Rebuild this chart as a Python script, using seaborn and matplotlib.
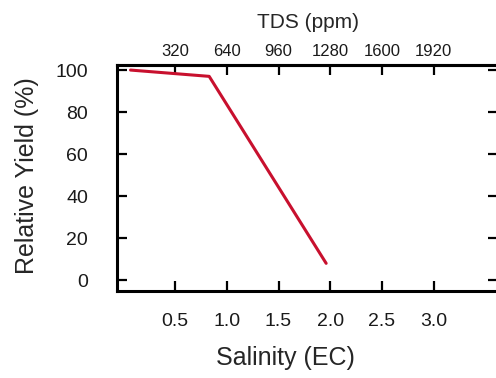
import numpy as np
import pandas as pd
import matplotlib
matplotlib.use("Agg")
import matplotlib.pyplot as plt
import seaborn as sns

# data
salinity_ec = [0.07, 0.83, 1.96]
relative_yield = [100, 97, 8]

ec_ticks = [0.5, 1.0, 1.5, 2.0, 2.5, 3.0]
tds_ticks = [320, 640, 960, 1280, 1600, 1920]
yield_ticks = [0, 20, 40, 60, 80, 100]
ppm_per_ec = 640

sns.set_style("ticks")
plt.rcParams['font.family'] = ['Liberation Sans', 'DejaVu Sans']
plt.rcParams['text.color'] = '#1a1a1a'

df = pd.DataFrame({'ec': salinity_ec, 'yield': relative_yield})

fig = plt.figure(figsize=(4.96, 3.78), dpi=100)
ax = fig.add_axes([0.236, 0.230, 0.768, 0.598])

sns.lineplot(data=df, x='ec', y='yield', ax=ax, color='#c8102e', linewidth=2.2)

ax.set_xlim(-0.06, 3.62)
ax.set_ylim(-5.2, 102.4)
ax.set_xticks(ec_ticks)
ax.set_yticks(yield_ticks)
ax.set_xticklabels([f'{t:.1f}' for t in ec_ticks])

for s in ax.spines.values():
    s.set_linewidth(2.2)
    s.set_color('black')

ax.tick_params(axis='x', direction='in', length=7, width=1.6, labelsize=14, pad=16,
               colors='black', labelcolor='#1a1a1a')
ax.tick_params(axis='y', direction='in', length=7, width=1.6, labelsize=14, pad=21,
               right=True, colors='black', labelcolor='#1a1a1a')

ax.set_xlabel('Salinity (EC)', fontsize=18)
ax.set_ylabel('Relative Yield (%)', fontsize=18)
ax.xaxis.set_label_coords(0.442, -0.245)
ax.yaxis.set_label_coords(-0.205, 0.51)

top = ax.secondary_xaxis('top', functions=(lambda x: x * ppm_per_ec, lambda x: x / ppm_per_ec))
top.set_xticks(tds_ticks)
top.tick_params(direction='in', length=7, width=1.6, labelsize=12, pad=4,
                colors='black', labelcolor='#1a1a1a')
top.spines['top'].set_linewidth(2.2)
top.set_xlabel('TDS (ppm)', fontsize=15, labelpad=12)

fig.savefig('out.png', dpi=100)
